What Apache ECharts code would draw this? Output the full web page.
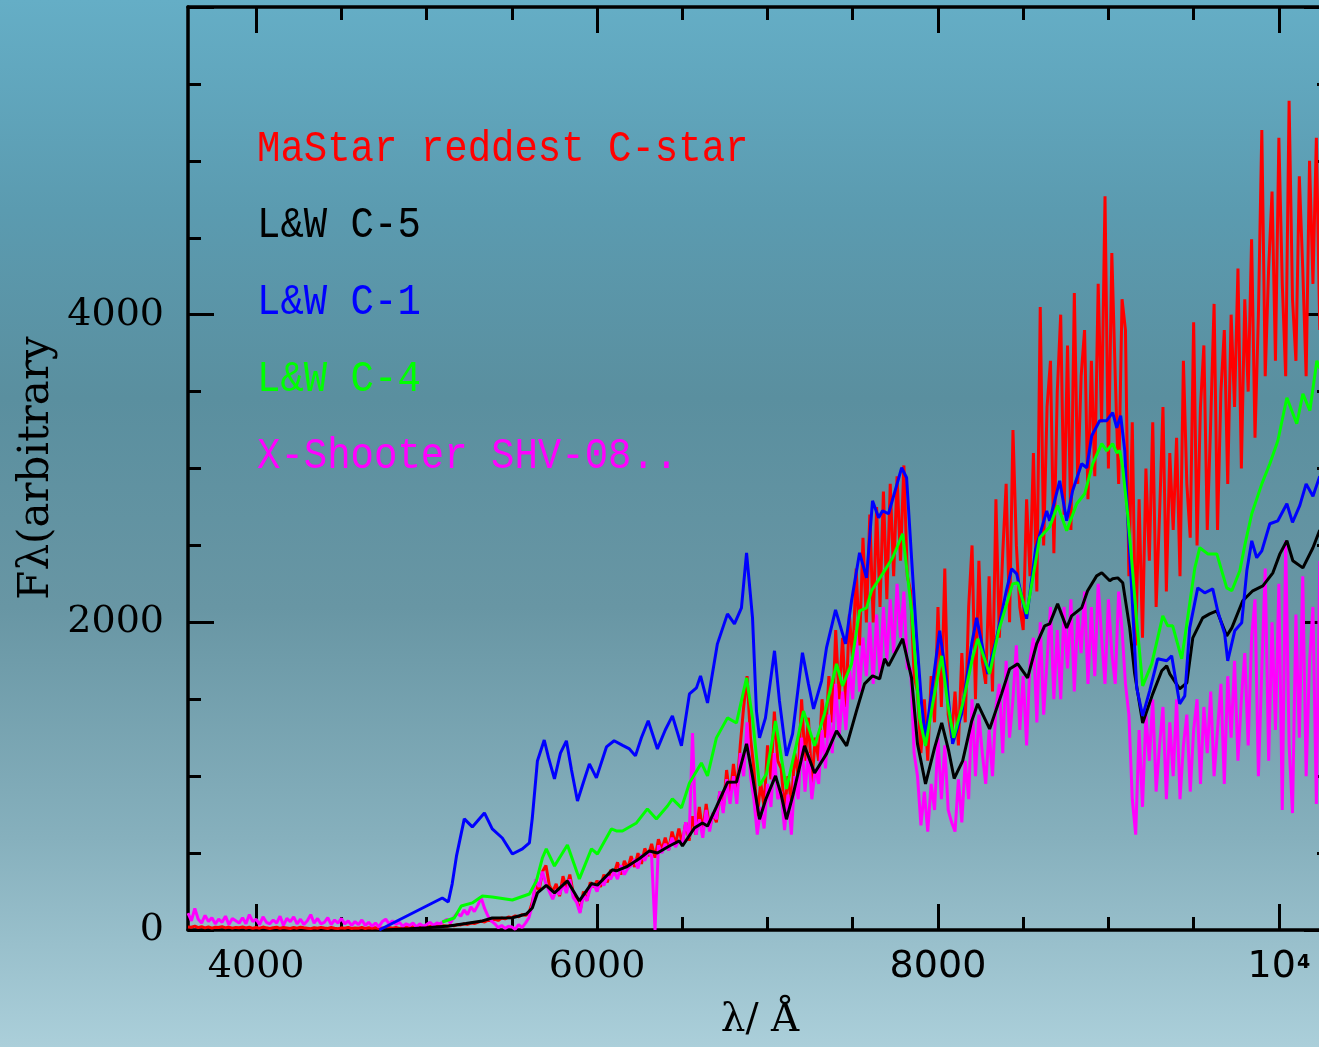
<!DOCTYPE html>
<html>
<head>
<meta charset="utf-8">
<script src="https://cdn.jsdelivr.net/npm/echarts@6/dist/echarts.min.js"></script>
<style>
  html, body { margin: 0; padding: 0; width: 1319px; height: 1047px; overflow: hidden; }
  #chart { width: 1319px; height: 1047px; }
</style>
</head>
<body>
<div id="chart"></div>
<script>
// ---- Spectra (wavelength in Å, flux in arbitrary units) ----

// MaStar reddest C-star: linear wavelength grid starting at 3600 Å, 20 Å per pixel
const MASTAR_START = 3600;
const MASTAR_STEP = 20;
const mastarFlux = [
  20, 18, 25, 15, 22,        // 3600
  14, 20, 12, 18, 16,        // 3700
  22, 14, 19, 12, 17,        // 3800
  15, 20, 13, 18, 11,        // 3900
  16, 12, 19, 14, 10,        // 4000
  15, 18, 11, 16, 13,        // 4100
  10, 16, 12, 18, 14,        // 4200
  12, 9, 15, 11, 17,         // 4300
  13, 10, 16, 12, 9,         // 4400
  14, 11, 17, 10, 13,        // 4500
  12, 16, 10, 14, 11,        // 4600
  15, 9, 13, 11, 16,         // 4700
  12, 17, 10, 14, 19,        // 4800
  15, 21, 13, 18, 22,        // 4900
  17, 24, 20, 26, 22,        // 5000
  28, 24, 32, 27, 35,        // 5100
  33, 40, 36, 45, 42,        // 5200
  50, 58, 52, 64, 60,        // 5300
  70, 62, 78, 72, 85,        // 5400
  80, 92, 86, 100, 95,       // 5500
  110, 180, 290, 260, 380,   // 5600
  420, 290, 250, 300, 220,   // 5700
  350, 270, 360, 240, 200,   // 5800
  120, 250, 190, 310, 280,   // 5900
  320, 280, 360, 310, 390,   // 6000
  370, 440, 360, 450, 400,   // 6100
  480, 410, 500, 430, 530,   // 6200
  480, 560, 470, 590, 520,   // 6300
  600, 520, 640, 560, 660,   // 6400
  560, 700, 580, 740, 620,   // 6500
  800, 640, 820, 660, 760,   // 6600
  700, 900, 780, 1040, 860,  // 6700
  1080, 900, 1200, 1450, 1650,  // 6800
  1250, 1050, 740, 960, 800,    // 6900
  1200, 980, 1420, 1100, 1050,  // 7000
  780, 1000, 820, 1150, 1000,   // 7100
  1500, 1100, 1380, 950, 1250,  // 7200
  1100, 1500, 1250, 1650, 1350, // 7300
  1950, 1500, 1900, 1450, 2050, // 7400
  1750, 2350, 1850, 2550, 2000, // 7500
  2700, 2000, 2750, 2100, 2850, // 7600
  2150, 2900, 2300, 2950, 2400, // 7700
  3020, 2300, 2200, 1650, 1550, // 7800
  1150, 1500, 1100, 1650, 1350, // 7900
  2100, 1450, 2350, 1400, 1250, // 8000
  1550, 1200, 1800, 1350, 2100, // 8100
  2500, 1500, 2400, 1750, 1600, // 8200
  2300, 1550, 2800, 1900, 2450, // 8300
  2900, 2000, 3250, 2500, 2100, // 8400
  1950, 2800, 2300, 3100, 2200, // 8500
  4050, 2500, 3400, 3700, 2450, // 8600
  3500, 4000, 2700, 3800, 2600, // 8700
  4140, 2900, 3600, 3900, 2800, // 8800
  3700, 2950, 4200, 3300, 4770, // 8900
  3000, 4400, 3600, 2900, 4100, // 9000
  3900, 2300, 3300, 1850, 2800, // 9100
  1900, 3000, 2400, 3300, 2100, // 9200
  2700, 3400, 2200, 3100, 2600, // 9300
  3200, 2300, 3700, 2900, 2550, // 9400
  3950, 2500, 3400, 3800, 2600, // 9500
  3300, 4070, 2600, 3500, 3900, // 9600
  2900, 4000, 3400, 4300, 3000, // 9700
  4100, 3500, 4490, 3200, 4000, // 9800
  5200, 3600, 4300, 4800, 3700, // 9900
  5150, 4200, 3600, 5390, 4100, // 10000
  3700, 4900, 4300, 3600, 5000, // 10100
  4200, 5150, 3900              // 10200
];

// X-Shooter SHV-08.. : same 20 Å grid
const XSHOOTER_START = 3600;
const XSHOOTER_STEP = 20;
const xshooterFlux = [
  110, 60, 140, 70, 45,      // 3600
  95, 55, 80, 40, 70,        // 3700
  50, 90, 35, 75, 60,        // 3800
  45, 80, 40, 100, 55,       // 3900
  70, 35, 85, 50, 40,        // 4000
  65, 45, 90, 30, 75,        // 4100
  55, 85, 40, 70, 35,        // 4200
  60, 100, 45, 75, 40,       // 4300
  50, 80, 35, 65, 45,        // 4400
  75, 40, 60, 30, 55,        // 4500
  35, 65, 30, 50, 25,        // 4600
  45, 20, 55, 70, 40,        // 4700
  60, 35, 50, 25, 40,        // 4800
  30, 45, 20, 40, 25,        // 4900
  35, 50, 30, 45, 40,        // 5000
  55, 70, 45, 85, 110,       // 5100
  90, 130, 100, 150, 120,    // 5200
  160, 210, 140, 90, 60,     // 5300
  40, 15, 30, 10, 25,        // 5400
  20, 5, 35, 15, 45,         // 5500
  80, 160, 330, 280, 380,    // 5600
  300, 250, 200, 260, 230,   // 5700
  300, 240, 330, 210, 180,   // 5800
  110, 230, 190, 270, 300,   // 5900
  250, 320, 290, 350, 330,   // 6000
  380, 330, 420, 360, 400,   // 6100
  420, 460, 400, 490, 450,   // 6200
  510, 480, 0, 550, 500,     // 6300
  560, 520, 600, 540, 580,   // 6400
  560, 700, 600, 1280, 620,  // 6500
  720, 600, 780, 640, 760,   // 6600
  720, 900, 760, 980, 820,   // 6700
  1000, 820, 1150, 1000, 1350,  // 6800
  1000, 850, 620, 800, 660,     // 6900
  950, 800, 1150, 850, 900,     // 7000
  650, 880, 620, 1000, 850,     // 7100
  1250, 900, 1150, 850, 1050,   // 7200
  950, 1300, 1050, 1400, 1150,  // 7300
  1600, 1250, 1550, 1300, 1700, // 7400
  1500, 1950, 1550, 1900, 1650, // 7500
  2000, 1600, 2050, 1650, 2100, // 7600
  1750, 2150, 1800, 2250, 1900, // 7700
  2200, 1700, 1700, 1150, 1000, // 7800
  680, 900, 640, 950, 780,      // 7900
  1250, 850, 1200, 780, 700,    // 8000
  640, 980, 700, 1100, 850,     // 8100
  1500, 1000, 1400, 1150, 950,  // 8200
  1300, 1000, 1450, 1600, 1150, // 8300
  1750, 1250, 1500, 1850, 1300, // 8400
  1650, 1200, 1750, 1900, 1350, // 8500
  2000, 1400, 1750, 2100, 1500, // 8600
  1950, 1500, 2100, 1700, 2150, // 8700
  1550, 2050, 1800, 2200, 1600, // 8800
  2100, 1650, 2250, 1900, 1600, // 8900
  2150, 1800, 1600, 2200, 1950, // 9000
  1600, 1400, 850, 620, 1300,   // 9100
  800, 1400, 1100, 1500, 900,   // 9200
  1200, 1450, 850, 1350, 1000,  // 9300
  1500, 850, 1200, 1400, 900,   // 9400
  1300, 1500, 950, 1450, 1150,  // 9500
  1550, 1000, 1300, 1600, 950,  // 9600
  1650, 1250, 1750, 1100, 1500, // 9700
  1800, 1200, 1900, 2150, 1000, // 9800
  1700, 2350, 1100, 2000, 1300, // 9900
  2250, 780, 2530, 1200, 760,   // 10000
  2050, 1250, 2300, 1000, 1750, // 10100
  2100, 820, 2400               // 10200
];

// Lançon & Wood template spectra, [wavelength, flux]
const lwC5 = [
  [4740, 0], [4900, 8], [5000, 14], [5133, 26], [5230, 42], [5327, 59], [5385, 78],
  [5503, 80], [5585, 104], [5620, 143], [5650, 241], [5702, 290], [5750, 241],
  [5826, 319], [5896, 189], [5967, 302], [6002, 292], [6090, 392], [6113, 384],
  [6172, 410], [6249, 465], [6307, 514], [6354, 501], [6424, 546], [6483, 579],
  [6501, 546], [6571, 663], [6618, 696], [6648, 676], [6700, 800], [6765, 960],
  [6818, 962], [6877, 1210], [6912, 1000], [6953, 720], [6990, 850], [7047, 1002],
  [7080, 880], [7111, 720], [7150, 880], [7217, 1197], [7276, 1021], [7346, 1145],
  [7405, 1294], [7464, 1197], [7522, 1424], [7569, 1600], [7616, 1652], [7658, 1632],
  [7687, 1763], [7710, 1717], [7793, 1893], [7845, 1639], [7880, 1210], [7927, 950],
  [7980, 1184], [8022, 1346], [8063, 1164], [8095, 985], [8145, 1099], [8198, 1359],
  [8233, 1470], [8303, 1307], [8373, 1535], [8420, 1697], [8468, 1730], [8526, 1639],
  [8579, 1860], [8626, 1977], [8655, 1990], [8702, 2120], [8755, 1964], [8784, 2042],
  [8843, 2094], [8878, 2205], [8931, 2302], [8961, 2322], [9008, 2270], [9025, 2283],
  [9055, 2289], [9084, 2257], [9125, 1964], [9154, 1665], [9201, 1346], [9260, 1535],
  [9313, 1685], [9342, 1717], [9360, 1665], [9418, 1567], [9460, 1607], [9495, 1899],
  [9553, 2029], [9594, 2055], [9636, 2075], [9694, 1912], [9724, 1964], [9788, 2140],
  [9847, 2205], [9906, 2237], [9965, 2322], [10006, 2445], [10047, 2530], [10082, 2400],
  [10141, 2354], [10200, 2485], [10240, 2600]
];

const lwC1 = [
  [4722, 0], [5092, 208], [5127, 182], [5150, 300], [5175, 480], [5221, 722], [5268, 670],
  [5339, 761], [5385, 657], [5444, 598], [5503, 494], [5562, 527], [5603, 566],
  [5620, 728], [5650, 1099], [5690, 1235], [5715, 1120], [5750, 982], [5785, 1150],
  [5820, 1230], [5850, 1040], [5885, 839], [5920, 960], [5955, 1080], [5996, 989],
  [6055, 1190], [6100, 1230], [6150, 1200], [6190, 1177], [6225, 1132], [6260, 1250],
  [6300, 1360], [6354, 1177], [6400, 1300], [6442, 1392], [6495, 1197], [6542, 1535],
  [6583, 1574], [6607, 1652], [6648, 1476], [6706, 1860], [6765, 2055], [6806, 1990],
  [6847, 2094], [6877, 2452], [6912, 2029], [6935, 1424], [6953, 1249], [6988, 1379],
  [7041, 1815], [7070, 1489], [7111, 1132], [7147, 1275], [7205, 1802], [7240, 1600],
  [7270, 1437], [7317, 1620], [7346, 1834], [7399, 2081], [7458, 1860], [7493, 2140],
  [7540, 2452], [7581, 2289], [7616, 2790], [7652, 2680], [7675, 2725], [7710, 2706],
  [7760, 2900], [7787, 3005], [7816, 2940], [7845, 2420], [7875, 1899], [7904, 1470],
  [7927, 1249], [7969, 1600], [8010, 1945], [8051, 1620], [8086, 1210], [8139, 1405],
  [8198, 1860], [8227, 2029], [8292, 1665], [8344, 1899], [8400, 2200], [8432, 2348],
  [8462, 2315], [8520, 2023], [8573, 2478], [8638, 2725], [8655, 2660], [8714, 2920],
  [8755, 2660], [8790, 2855], [8843, 3031], [8873, 3005], [8902, 3213], [8949, 3311],
  [8990, 3311], [9025, 3363], [9049, 3265], [9072, 3343], [9096, 3115], [9113, 2680],
  [9137, 2205], [9166, 1574], [9201, 1392], [9242, 1554], [9289, 1763], [9342, 1750],
  [9371, 1782], [9418, 1470], [9448, 1522], [9477, 1964], [9524, 2224], [9565, 2192],
  [9612, 2218], [9641, 2075], [9682, 1925], [9700, 1750], [9741, 1945], [9782, 1997],
  [9812, 2335], [9841, 2530], [9870, 2420], [9900, 2465], [9947, 2641], [9994, 2660],
  [10047, 2771], [10080, 2650], [10123, 2760], [10160, 2900], [10200, 2820], [10240, 2950]
];

const lwC4 = [
  [5092, 52], [5162, 78], [5203, 156], [5268, 176], [5327, 221], [5385, 215], [5503, 195],
  [5603, 234], [5644, 319], [5679, 468], [5702, 527], [5750, 416], [5826, 553],
  [5896, 332], [5967, 527], [6002, 494], [6084, 657], [6113, 644], [6149, 644],
  [6231, 696], [6295, 787], [6348, 722], [6413, 806], [6442, 852], [6495, 794],
  [6542, 956], [6612, 1086], [6648, 1002], [6700, 1249], [6765, 1379], [6818, 1346],
  [6877, 1639], [6912, 1379], [6953, 937], [6994, 1015], [7047, 1359], [7111, 917],
  [7170, 1210], [7211, 1424], [7276, 1197], [7334, 1405], [7405, 1730], [7440, 1587],
  [7493, 1730], [7540, 2075], [7581, 2094], [7610, 2205], [7675, 2315], [7734, 2420],
  [7793, 2576], [7845, 2075], [7892, 1379], [7927, 1197], [7969, 1470], [8022, 1782],
  [8057, 1470], [8092, 1249], [8145, 1470], [8203, 1769], [8233, 1893], [8303, 1665],
  [8356, 1945], [8438, 2250], [8468, 2257], [8520, 2055], [8597, 2550], [8655, 2620],
  [8702, 2760], [8755, 2595], [8814, 2771], [8861, 2836], [8908, 3031], [8961, 3161],
  [8990, 3115], [9025, 3161], [9049, 3102], [9067, 3115], [9084, 3005], [9113, 2700],
  [9137, 2400], [9166, 2010], [9201, 1587], [9254, 1730], [9319, 2042], [9348, 1977],
  [9377, 1977], [9430, 1763], [9448, 1899], [9507, 2354], [9536, 2485], [9583, 2445],
  [9636, 2445], [9694, 2224], [9724, 2205], [9771, 2335], [9800, 2500], [9841, 2706],
  [9900, 2900], [9947, 3031], [9994, 3180], [10047, 3460], [10105, 3291], [10141, 3486],
  [10182, 3376], [10223, 3700], [10240, 3650]
];

// Series names, in the order of the key
const seriesNames = ['MaStar reddest C-star', 'L&W C-5', 'L&W C-1', 'L&W C-4', 'X-Shooter SHV-08..'];

// Axis ticks and labels
const xMajorTicks = [4000, 6000, 8000, 10000];
const xMinorTicks = [4500, 5000, 5500, 6500, 7000, 7500, 8500, 9000, 9500];
const xTickLabels = ['4000', '6000', '8000', '10⁴'];
const yMajorTicks = [0, 2000, 4000, 6000];
const yMinorTicks = [500, 1000, 1500, 2500, 3000, 3500, 4500, 5000, 5500];
const yTickLabels = ['0', '2000', '4000', ''];

const xTitle = 'λ/ Å';
const yTitle = 'Fλ(arbitrary';

// ---- Chart ----
const X_MIN = 3600, X_MAX = 10300, Y_MIN = 0, Y_MAX = 6000;
const INK = '#000000';
const COLORS = {
  mastar: '#ff0000', c5: '#000000', c1: '#0000ff', c4: '#00ff00', xshooter: '#ff00ff'
};

function gridSeries(start, step, values) {
  return values.map((v, i) => [start + i * step, v]);
}

function xFrameAxis(position, ticks, len, showLine, showLabel) {
  return {
    type: 'value', position: position, min: X_MIN, max: X_MAX,
    axisLine: { show: showLine, onZero: false, lineStyle: { color: INK, width: 3.5 } },
    axisTick: { show: true, inside: true, length: len, customValues: ticks,
      lineStyle: { color: INK, width: 3 } },
    axisLabel: showLabel ? {
      show: true, customValues: xMajorTicks, margin: 18, color: INK,
      formatter: function (v) {
        const txt = xTickLabels[xMajorTicks.indexOf(v)];
        if (txt === undefined) return '';
        const face = v < 7000 ? 'serif' : 'sans';
        if (txt.indexOf('⁴') >= 0) return '{' + face + '|' + txt.replace('⁴', '') + '}{sup|4}';
        return '{' + face + '|' + txt + '}';
      },
      rich: {
        serif: { fontFamily: 'DejaVu Serif', fontSize: 38, color: INK },
        sans: { fontFamily: 'DejaVu Sans', fontSize: 38, color: INK },
        sup: { fontFamily: 'DejaVu Sans', fontSize: 19, fontWeight: 'bold', color: INK, padding: [0, 0, 8, 1] }
      }
    } : { show: false },
    splitLine: { show: false }
  };
}

function yFrameAxis(position, ticks, len, showLine, showLabel) {
  return {
    type: 'value', position: position, min: Y_MIN, max: Y_MAX,
    axisLine: { show: showLine, onZero: false, lineStyle: { color: INK, width: 3.5 } },
    axisTick: { show: true, inside: true, length: len, customValues: ticks,
      lineStyle: { color: INK, width: 3 } },
    axisLabel: showLabel ? {
      show: true, customValues: [0, 2000, 4000], margin: 24, color: INK,
      fontFamily: 'DejaVu Serif', fontSize: 38,
      formatter: function (v) {
        const i = yMajorTicks.indexOf(v);
        return i >= 0 ? yTickLabels[i] : '';
      }
    } : { show: false },
    splitLine: { show: false }
  };
}

const legendColors = [COLORS.mastar, COLORS.c5, COLORS.c1, COLORS.c4, COLORS.xshooter];
const legendGraphics = seriesNames.map((name, i) => ({
  type: 'text',
  x: 257, y: 149 + i * 76.8, scaleY: 1.12,
  style: {
    text: name, fill: legendColors[i],
    font: '39px "Liberation Mono", "DejaVu Sans Mono", monospace',
    textAlign: 'left', textVerticalAlign: 'middle', align: 'left', verticalAlign: 'middle'
  }
}));

function lineSeries(name, data, color) {
  return {
    name: name, type: 'line', data: data,
    xAxisIndex: 0, yAxisIndex: 0,
    showSymbol: false, symbol: 'none', clip: true,
    lineStyle: { color: color, width: 3 },
    itemStyle: { color: color },
    emphasis: { disabled: true }
  };
}

const option = {
  animation: false,
  backgroundColor: {
    type: 'linear', x: 0, y: 0, x2: 0, y2: 1,
    colorStops: [
      { offset: 0.0, color: '#65aec6' },
      { offset: 0.2, color: '#5b9bb0' },
      { offset: 0.38, color: '#5a8f9f' },
      { offset: 0.58, color: '#6896a4' },
      { offset: 0.8, color: '#86b0bd' },
      { offset: 1.0, color: '#abcfda' }
    ]
  },
  // the frame runs a little past the right edge of the canvas
  grid: { left: 188, top: 7, width: 1142, height: 923, containLabel: false, outerBoundsMode: 'none' },
  xAxis: [
    xFrameAxis('bottom', xMajorTicks, 26, true, true),
    xFrameAxis('bottom', xMinorTicks, 13, false, false),
    xFrameAxis('top', xMajorTicks, 26, true, false),
    xFrameAxis('top', xMinorTicks, 13, false, false)
  ],
  yAxis: [
    yFrameAxis('left', yMajorTicks, 26, true, true),
    yFrameAxis('left', yMinorTicks, 13, false, false),
    yFrameAxis('right', yMajorTicks, 26, true, false),
    yFrameAxis('right', yMinorTicks, 13, false, false)
  ],
  graphic: legendGraphics.concat([
    {
      type: 'text', x: 760, y: 1021,
      style: { text: xTitle, fill: INK, font: '39px "DejaVu Serif"',
        textAlign: 'center', textVerticalAlign: 'middle', align: 'center', verticalAlign: 'middle' }
    },
    {
      type: 'text', x: 37, y: 468, rotation: Math.PI / 2,
      style: { text: yTitle, fill: INK, font: '42px "DejaVu Serif"',
        textAlign: 'center', textVerticalAlign: 'middle', align: 'center', verticalAlign: 'middle' }
    }
  ]),
  series: [
    lineSeries(seriesNames[0], gridSeries(MASTAR_START, MASTAR_STEP, mastarFlux), COLORS.mastar),
    lineSeries(seriesNames[4], gridSeries(XSHOOTER_START, XSHOOTER_STEP, xshooterFlux), COLORS.xshooter),
    lineSeries(seriesNames[1], lwC5, COLORS.c5),
    lineSeries(seriesNames[2], lwC1, COLORS.c1),
    lineSeries(seriesNames[3], lwC4, COLORS.c4)
  ]
};

const chart = echarts.init(document.getElementById('chart'), null, { renderer: 'canvas', width: 1319, height: 1047 });
chart.setOption(option);
</script>
</body>
</html>
